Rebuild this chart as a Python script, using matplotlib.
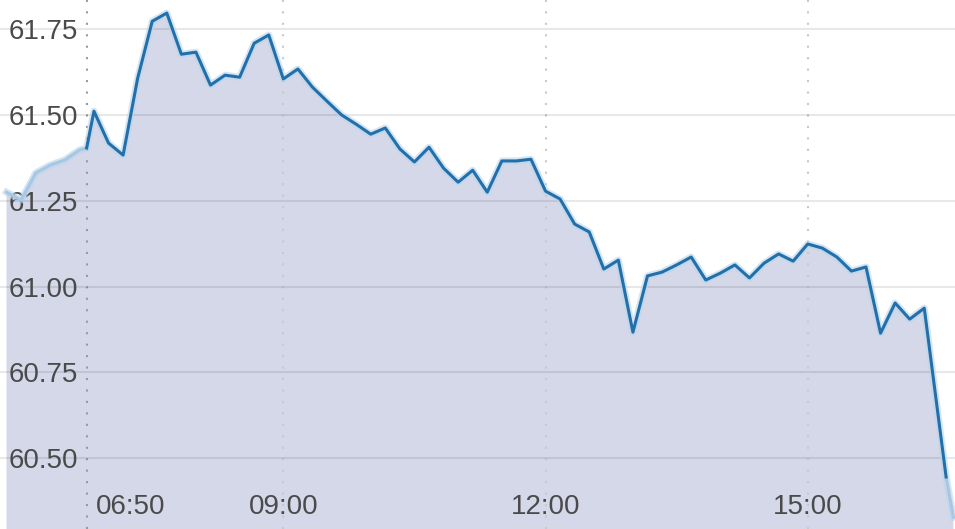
import matplotlib
matplotlib.use("Agg")
import matplotlib.pyplot as plt
import matplotlib.transforms as mtransforms

def hm(s):
    h, m = s.split(":")
    return int(h) * 60 + int(m)

# Pre-market
pre_times = ["05:50", "06:00", "06:10", "06:20", "06:30", "06:40", "06:45"]
pre_values = [61.275, 61.252, 61.331, 61.354, 61.369, 61.398, 61.404]

# Regular session
reg_times = ["06:45", "06:50", "07:00", "07:10", "07:20", "07:30", "07:40", "07:50",
             "08:00", "08:10", "08:20", "08:30", "08:40", "08:50", "09:00", "09:10",
             "09:20", "09:30", "09:40", "09:50", "10:00", "10:10", "10:20", "10:30",
             "10:40", "10:50", "11:00", "11:10", "11:20", "11:30", "11:40", "11:50",
             "12:00", "12:10", "12:20", "12:30", "12:40", "12:50", "13:00", "13:10",
             "13:20", "13:30", "13:40", "13:50", "14:00", "14:10", "14:20", "14:30",
             "14:40", "14:50", "15:00", "15:10", "15:20", "15:30", "15:40", "15:50",
             "16:00", "16:10", "16:20", "16:35"]
reg_values = [61.404, 61.511, 61.418, 61.383, 61.607, 61.773, 61.797, 61.677,
              61.683, 61.587, 61.616, 61.610, 61.709, 61.733, 61.605, 61.634,
              61.581, 61.540, 61.500, 61.473, 61.444, 61.462, 61.401, 61.363,
              61.406, 61.345, 61.304, 61.339, 61.275, 61.366, 61.366, 61.371,
              61.278, 61.255, 61.182, 61.159, 61.051, 61.077, 60.867, 61.031,
              61.042, 61.063, 61.086, 61.019, 61.039, 61.063, 61.025, 61.068,
              61.095, 61.074, 61.124, 61.112, 61.086, 61.045, 61.057, 60.864,
              60.952, 60.905, 60.937, 60.445]

# Post-market
post_times = ["16:35", "16:40"]
post_values = [60.445, 60.328]

y_ticks = [60.50, 60.75, 61.00, 61.25, 61.50, 61.75]
x_grid_times = ["09:00", "12:00", "15:00"]
x_labels = ["06:50", "09:00", "12:00", "15:00"]
session_open = "06:45"

pre_x = [hm(t) for t in pre_times]
reg_x = [hm(t) for t in reg_times]
post_x = [hm(t) for t in post_times]

all_x = pre_x + reg_x[1:] + post_x[1:]
all_y = pre_values + reg_values[1:] + post_values[1:]

fig = plt.figure(figsize=(9.55, 5.29), dpi=100)
ax = fig.add_axes([0, 0, 1, 1])
for s in ax.spines.values():
    s.set_visible(False)

ymin, ymax = 60.2934, 61.835
ax.set_xlim(345.5, 1001.1)
ax.set_ylim(ymin, ymax)

ax.fill_between(all_x, all_y, ymin - 1, color="#d4d8e8", zorder=1, linewidth=0)

# horizontal grid
ax.set_yticks(y_ticks)
ax.set_yticklabels([f"{v:.2f}" for v in y_ticks])
ax.grid(axis="y", color="black", alpha=0.09, linewidth=1.5)
ax.set_axisbelow(False)
ax.tick_params(axis="y", length=0, pad=-56, labelsize=20, labelcolor="#4a4a4a")
for lab in ax.get_yticklabels():
    lab.set_fontfamily(["Liberation Sans", "DejaVu Sans"])
ax.set_xticks([])

# vertical dotted lines
for t in x_grid_times:
    ax.axvline(hm(t), color="#c9c9c9", linewidth=1.5, linestyle=(0, (1, 4.5)), zorder=2)
ax.axvline(hm(session_open), color="#9a9a9a", linewidth=1.5, linestyle=(0, (1, 4.5)), zorder=2)

# halo
ax.plot(all_x, all_y, color="#b9d5ec", linewidth=5, alpha=0.6, zorder=3,
        solid_joinstyle="round")
# lines
ax.plot(pre_x, pre_values, color="#a7c7e3", linewidth=2.2, zorder=4, solid_joinstyle="round")
ax.plot(post_x, post_values, color="#a7c7e3", linewidth=2.2, zorder=4, solid_joinstyle="round")
ax.plot(reg_x, reg_values, color="#2270ab", linewidth=2.2, zorder=5, solid_joinstyle="round")

# x labels
trans = mtransforms.blended_transform_factory(ax.transData, ax.transAxes)
label_y = (529 - 507) / 529
for i, t in enumerate(x_labels):
    if i == 0:
        ax.text(hm(t) + 1.5, label_y, t, transform=trans, ha="left", va="center",
                fontsize=20, color="#4a4a4a", family=["Liberation Sans", "DejaVu Sans"], zorder=6)
    else:
        ax.text(hm(t), label_y, t, transform=trans, ha="center", va="center",
                fontsize=20, color="#4a4a4a", family=["Liberation Sans", "DejaVu Sans"], zorder=6)

fig.savefig("out.png", dpi=100)
